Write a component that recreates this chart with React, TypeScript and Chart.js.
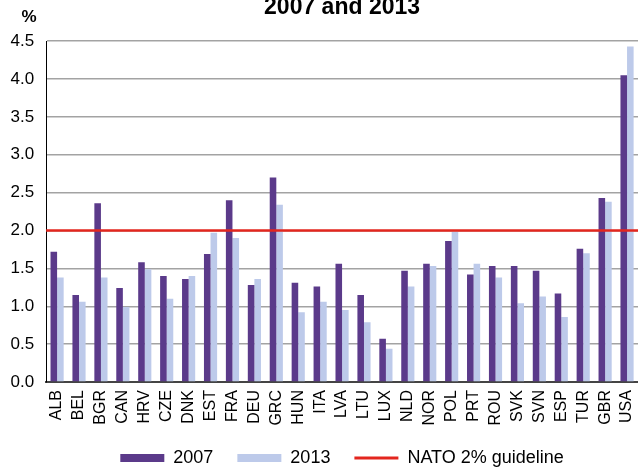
import React, { useEffect, useRef } from "react";
import { Chart, registerables } from "chart.js";

Chart.register(...registerables);

const categories = ["ALB","BEL","BGR","CAN","HRV","CZE","DNK","EST","FRA","DEU","GRC","HUN","ITA","LVA","LTU","LUX","NLD","NOR","POL","PRT","ROU","SVK","SVN","ESP","TUR","GBR","USA"];
const values2007 = [1.72,1.15,2.36,1.24,1.58,1.40,1.36,1.69,2.40,1.28,2.70,1.31,1.26,1.56,1.15,0.57,1.47,1.56,1.86,1.42,1.53,1.53,1.47,1.17,1.76,2.43,4.05];
const values2013 = [1.38,1.06,1.38,0.99,1.49,1.10,1.40,1.97,1.90,1.36,2.34,0.92,1.06,0.95,0.79,0.44,1.26,1.53,1.98,1.56,1.38,1.04,1.13,0.86,1.70,2.38,4.43];
const guideline = 2.0;
const yTicks = [0, 0.5, 1.0, 1.5, 2.0, 2.5, 3.0, 3.5, 4.0, 4.5];
const seriesLabels = ["2007", "2013", "NATO 2% guideline"];
const titleText = "2007 and 2013";
const unitLabel = "%";

const FONT = "'Liberation Sans', Arial, Helvetica, sans-serif";
const RED = "#e3261e";

export default function App() {
  const ref = useRef<HTMLCanvasElement | null>(null);
  useEffect(() => {
    document.body.style.margin = "0";
    const canvas = ref.current;
    if (!canvas) return;
    Chart.defaults.font.family = FONT;
    Chart.defaults.color = "#000";
    const extras = {
      id: "extras",
      afterDatasetsDraw(chart: any) {
        const ctx = chart.ctx;
        const area = chart.chartArea;
        const y = chart.scales.y.getPixelForValue(guideline);
        ctx.save();
        ctx.strokeStyle = RED;
        ctx.lineWidth = 2.5;
        ctx.beginPath();
        ctx.moveTo(area.left, y);
        ctx.lineTo(area.right, y);
        ctx.stroke();
        ctx.restore();
      },
      afterDraw(chart: any) {
        const ctx = chart.ctx;
        ctx.save();
        ctx.font = `bold 17px ${FONT}`;
        ctx.fillStyle = "#000";
        ctx.textAlign = "center";
        ctx.textBaseline = "alphabetic";
        ctx.fillText(unitLabel, 29, 22);
        ctx.restore();
      },
    };
    const chart = new Chart(canvas, {
      type: "bar",
      data: {
        labels: categories,
        datasets: [
          {
            label: seriesLabels[0],
            data: values2007,
            backgroundColor: "#5b3a8a",
            borderWidth: 0,
            pointStyle: "rect",
            categoryPercentage: 0.6,
            barPercentage: 1.0,
          } as any,
          {
            label: seriesLabels[1],
            data: values2013,
            backgroundColor: "#bdcaea",
            borderWidth: 0,
            pointStyle: "rect",
            categoryPercentage: 0.6,
            barPercentage: 1.0,
          } as any,
          {
            type: "line",
            label: seriesLabels[2],
            data: categories.map(() => null),
            borderColor: RED,
            backgroundColor: RED,
            borderWidth: 3,
            pointRadius: 0,
            pointStyle: "line",
            pointBorderColor: RED,
            pointBorderWidth: 3,
          } as any,
        ],
      },
      options: {
        animation: false,
        responsive: true,
        maintainAspectRatio: false,
        layout: { padding: { left: -1.5, right: 0, top: 0, bottom: -8 } },
        plugins: {
          tooltip: { enabled: false },
          title: {
            display: true,
            text: titleText,
            fullSize: false,
            font: { size: 23, weight: "bold", lineHeight: 0.7 },
            color: "#000",
            padding: { top: 0, bottom: 25 },
          },
          legend: {
            position: "bottom",
            fullSize: false,
            labels: {
              usePointStyle: true,
              pointStyleWidth: 44,
              boxHeight: 8,
              padding: 24,
              font: { size: 18 },
              color: "#000",
            },
          },
        },
        scales: {
          x: {
            type: "category",
            offset: true,
            grid: { display: false, drawTicks: false },
            border: { display: true, color: "#444", width: 2 },
            ticks: { minRotation: 90, maxRotation: 90, padding: 8, font: { size: 16 }, color: "#000", autoSkip: false },
            afterFit: (axis: any) => {
              axis.height = axis.height - 8.6;
              axis.paddingRight = 0;
              axis.paddingLeft = 0;
            },
          },
          y: {
            min: 0,
            max: 4.5,
            afterBuildTicks: (axis: any) => {
              axis.ticks = yTicks.map((v) => ({ value: v }));
            },
            ticks: {
              padding: 12,
              font: { size: 17 },
              color: "#000",
              callback: (v: any) => Number(v).toFixed(1),
            },
            grid: { color: "#a3a3a3", lineWidth: 1.5, drawTicks: false },
            border: { display: true, color: "#000", width: 1 },
          },
        },
      } as any,
      plugins: [extras],
    });
    return () => chart.destroy();
  }, []);
  return (
    <div style={{ width: 638, height: 469, position: "relative", background: "#fff" }}>
      <canvas ref={ref} />
    </div>
  );
}
